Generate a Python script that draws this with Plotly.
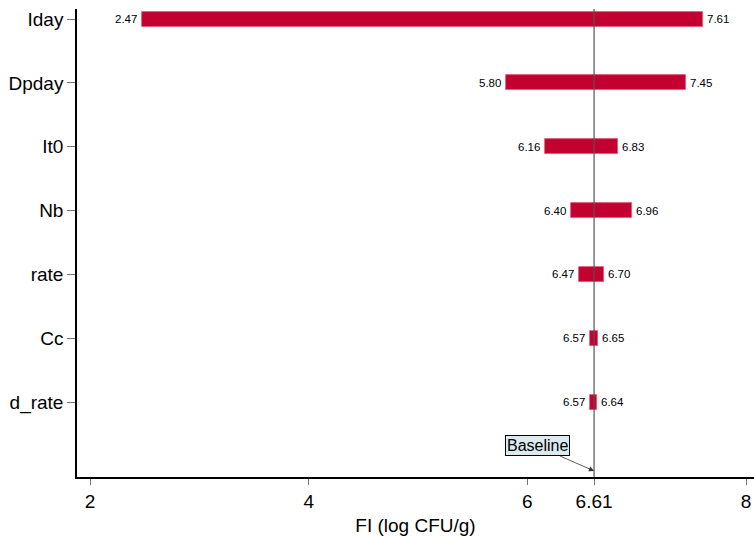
import plotly.graph_objects as go

params = ["Iday", "Dpday", "It0", "Nb", "rate", "Cc", "d_rate"]
low_vals = [2.47, 5.80, 6.16, 6.40, 6.47, 6.57, 6.57]
high_vals = [7.61, 7.45, 6.83, 6.96, 6.70, 6.65, 6.64]
baseline = 6.61
x_ticks = [2, 4, 6, 6.61, 8]
x_tick_labels = ["2", "4", "6", "6.61", "8"]

pos = list(range(len(params)))
FONT = "Liberation Sans, Arial, sans-serif"

fig = go.Figure()
fig.add_trace(go.Bar(
    y=pos,
    x=[h - l for h, l in zip(high_vals, low_vals)],
    base=low_vals,
    orientation="h",
    width=0.235,
    marker=dict(color="#C3002F", line=dict(color="#E05A78", width=0.8)),
    showlegend=False,
    hoverinfo="skip",
))

for p, lo, hi in zip(pos, low_vals, high_vals):
    fig.add_annotation(x=lo, y=p, xref="x", yref="y", text=f"{lo:.2f}",
                       showarrow=False, xanchor="right", xshift=-3,
                       font=dict(family=FONT, size=11.5, color="black"))
    fig.add_annotation(x=hi, y=p, xref="x", yref="y", text=f"{hi:.2f}",
                       showarrow=False, xanchor="left", xshift=2,
                       font=dict(family=FONT, size=11.5, color="black"))

fig.add_shape(type="line", x0=baseline, x1=baseline, xref="x", yref="paper",
              y0=0, y1=1, line=dict(color="#555555", width=1.2), layer="above")

fig.add_annotation(
    x=baseline, y=7.08, xref="x", yref="y",
    text="Baseline", showarrow=True, ax=-57, ay=-25,
    arrowhead=2, arrowsize=1.3, arrowwidth=0.8, arrowcolor="#333333",
    bgcolor="#DCE9EF", bordercolor="black", borderwidth=1, borderpad=1,
    font=dict(family=FONT, size=16, color="black"),
)

fig.update_layout(
    width=754, height=540,
    margin=dict(l=77, r=0, t=9, b=63),
    paper_bgcolor="white", plot_bgcolor="white",
    font=dict(family=FONT, color="black"),
    bargap=0,
)
fig.update_xaxes(
    range=[1.88, 8.073], tickvals=x_ticks, ticktext=x_tick_labels,
    showgrid=False, zeroline=False, showline=True, linecolor="black", linewidth=1.5,
    ticks="outside", ticklen=6, tickcolor="#777777", tickwidth=1,
    tickfont=dict(family=FONT, size=19, color="black"),
    title=dict(text="FI (log CFU/g)", font=dict(family=FONT, size=19, color="black"), standoff=8),
)
fig.update_yaxes(
    range=[7.175, -0.157], tickvals=pos, ticktext=params,
    showgrid=False, zeroline=False, showline=True, linecolor="black", linewidth=1.5,
    ticks="outside", ticklen=8, tickcolor="#777777", tickwidth=1,
    tickfont=dict(family=FONT, size=19, color="black"),
)

fig.write_html("out.html")
